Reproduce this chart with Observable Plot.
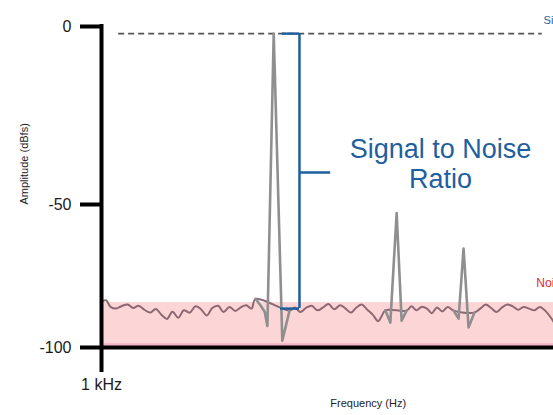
<!DOCTYPE html>
<html>
<head>
<meta charset="utf-8">
<script src="https://cdn.jsdelivr.net/npm/d3@7"></script>
<script src="https://cdn.jsdelivr.net/npm/@observablehq/plot@0.6"></script>
<style>
  html, body { margin: 0; padding: 0; background: #fff; overflow: hidden; }
</style>
</head>
<body>
<div id="chart"></div>
<script>
// Spectrum of a test tone: noise floor, the fundamental and two harmonics.
// Frequency in kHz, amplitude in dBFS.
const noiseFreq = [1.000,1.010,1.020,1.032,1.045,1.058,1.070,1.082,1.095,1.108,1.120,1.133,1.145,1.157,1.170,1.182,1.195,1.208,1.220,1.233,1.245,1.258,1.270,1.283,1.296,1.308,1.320,1.332,1.341,
  1.416,1.428,1.440,1.452,1.465,1.478,1.490,1.502,1.515,1.528,1.540,1.552,1.564,1.576,1.588,1.600,1.612,1.620,1.628,
  1.675,1.686,1.697,1.708,1.720,1.731,1.742,1.754,1.766,1.779,
  1.825,1.838,1.850,1.862,1.874,1.886,1.898,1.910,1.922,1.934,1.946,1.958,1.970,1.982,1.994,2.000];
const noiseDb = [-84.0,-83.5,-85.8,-86.4,-85.5,-85.0,-86.2,-85.4,-86.8,-87.8,-86.5,-88.6,-90.0,-87.5,-89.6,-87.0,-87.8,-85.6,-86.6,-88.8,-86.2,-85.4,-87.6,-85.8,-87.2,-86.0,-85.2,-86.4,-83.0,
  -87.1,-86.0,-87.6,-86.2,-85.4,-87.0,-86.0,-84.8,-86.6,-85.2,-86.4,-87.8,-86.0,-85.0,-86.8,-88.5,-90.8,-89.0,-87.0,
  -87.1,-85.6,-87.0,-85.8,-86.4,-88.0,-86.0,-87.4,-85.8,-87.1,
  -87.8,-86.4,-85.0,-86.2,-87.6,-86.0,-85.0,-85.6,-86.8,-85.8,-86.4,-87.0,-85.8,-87.2,-89.5,-91.0];

// Fundamental and harmonics, each with the ringing on either side
const peakName = ["fundamental","fundamental","fundamental","fundamental","fundamental","fundamental","fundamental",
  "2nd","2nd","2nd","2nd","2nd",
  "3rd","3rd","3rd","3rd","3rd"];
const peakFreq = [1.341,1.352,1.361,1.367,1.381,1.400,1.416,
  1.628,1.639,1.653,1.664,1.675,
  1.779,1.790,1.801,1.812,1.825];
const peakDb = [-83.0,-85.3,-87.5,-92.5,-2.0,-97.6,-87.1,
  -87.0,-91.3,-53.0,-90.6,-87.1,
  -87.1,-89.9,-65.4,-93.0,-87.8];

const yTicks = [-100, -50, 0];
const xTicks = [1];
const xTickLabels = ["1 kHz"];

const signalLevel = -2.0;      // level of the fundamental
const noiseFloor = -86.4;      // average noise level
const noiseBandTop = -84.3;    // top of the shaded noise band

const noise = noiseFreq.map((f, i) => ({f, db: noiseDb[i]}));
const peaks = peakFreq.map((f, i) => ({f, db: peakDb[i], name: peakName[i]}));

// SNR bracket
const bracketX = 1.438;
const bracket = [
  {x1: 1.400, x2: bracketX, y: signalLevel},
  {x1: 1.396, x2: bracketX, y: noiseFloor},
  {x1: bracketX, x2: 1.507, y: -41.0}
];

const blue = "#1f5f9f";
const font = "'Liberation Sans', Arial, sans-serif";

const chart = Plot.plot({
  width: 553,
  height: 415,
  marginLeft: 101,
  marginRight: 0,
  marginTop: 26,
  marginBottom: 68,
  style: {fontFamily: font, background: "#fff", color: "#1a1a1a", overflow: "hidden"},
  x: {type: "linear", domain: [1, 2]},
  y: {type: "linear", domain: [-100, -50, 0], range: [347, 204, 26]},
  marks: [
    // shaded noise band
    Plot.rect([{x1: 1, x2: 2, y1: -100, y2: noiseBandTop}], {x1: "x1", x2: "x2", y1: "y1", y2: "y2", fill: "#fcd6d6"}),
    Plot.ruleY([-99.0], {stroke: "#f3b3c6", strokeWidth: 3}),
    // signal level
    Plot.ruleY([signalLevel], {x1: 1.038, x2: 1.975, stroke: "#555", strokeWidth: 1.6, strokeDasharray: "6,4"}),
    // noise trace
    Plot.line(noise, {x: "f", y: "db", stroke: "#8c6872", strokeWidth: 2, curve: "catmull-rom"}),
    // tones
    Plot.line(peaks, {x: "f", y: "db", z: "name", stroke: "#8f8f8f", strokeWidth: 2.6, curve: "linear"}),
    // SNR bracket
    Plot.ruleX([bracketX], {y1: signalLevel, y2: noiseFloor, stroke: blue, strokeWidth: 2.5}),
    Plot.ruleY(bracket, {x1: "x1", x2: "x2", y: "y", stroke: blue, strokeWidth: 2.5}),
    Plot.text(["Signal to Noise\nRatio"], {x: 1.75, y: -38.5, text: d => d, fill: blue, fontSize: 27, lineHeight: 1.12, textAnchor: "middle"}),
    // side labels
    Plot.text(["Signal"], {x: 1.978, y: 1.7, text: d => d, fill: blue, fontSize: 11, textAnchor: "start"}),
    Plot.text(["Noise floor"], {x: 1.962, y: -77.6, text: d => d, fill: "#e3262a", fontSize: 12, textAnchor: "start"}),
    // axes
    Plot.ruleX([1], {stroke: "#000", strokeWidth: 4, strokeLinecap: "square"}),
    Plot.ruleY([-100], {stroke: "#000", strokeWidth: 4}),
    Plot.axisY({ticks: yTicks, tickSize: 21, tickPadding: 9, strokeWidth: 4, stroke: "#000", fontSize: 16, label: null,
      tickFormat: (d) => String(d)}),
    Plot.axisX({ticks: xTicks, tickSize: 25, tickPadding: 6, strokeWidth: 4, stroke: "#000", fontSize: 16, label: null,
      tickFormat: (d) => xTickLabels[xTicks.indexOf(d)]}),
    Plot.text(["Amplitude (dBfs)"], {y: -50, frameAnchor: "left", dx: -77, rotate: -90, text: d => d, fontSize: 11, fill: "#222"}),
    Plot.text(["Frequency (Hz)"], {x: 1.59, frameAnchor: "bottom", dy: 59, text: d => d, fontSize: 11, fill: "#222"})
  ]
});

document.getElementById("chart").appendChild(chart);
</script>
</body>
</html>
